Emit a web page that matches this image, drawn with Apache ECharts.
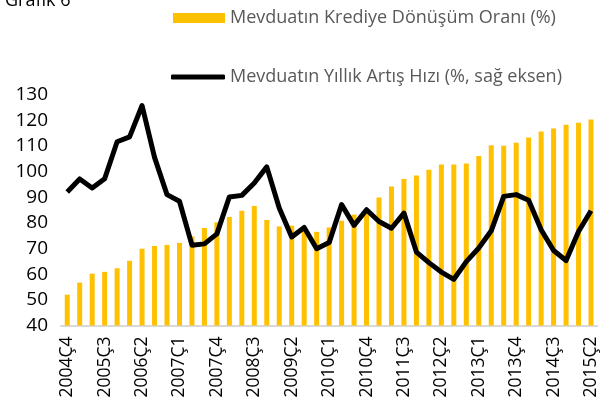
<!DOCTYPE html>
<html>
<head>
<meta charset="utf-8">
<script src="https://cdn.jsdelivr.net/npm/echarts@6/dist/echarts.min.js"></script>
<style>
html,body{margin:0;padding:0;background:#fff;}
#chart{width:600px;height:412px;}
</style>
</head>
<body>
<div id="chart"></div>
<script>
const categories = [
  "2004Ç4",
  "2005Ç1","2005Ç2","2005Ç3","2005Ç4",
  "2006Ç1","2006Ç2","2006Ç3","2006Ç4",
  "2007Ç1","2007Ç2","2007Ç3","2007Ç4",
  "2008Ç1","2008Ç2","2008Ç3","2008Ç4",
  "2009Ç1","2009Ç2","2009Ç3","2009Ç4",
  "2010Ç1","2010Ç2","2010Ç3","2010Ç4",
  "2011Ç1","2011Ç2","2011Ç3","2011Ç4",
  "2012Ç1","2012Ç2","2012Ç3","2012Ç4",
  "2013Ç1","2013Ç2","2013Ç3","2013Ç4",
  "2014Ç1","2014Ç2","2014Ç3","2014Ç4",
  "2015Ç1","2015Ç2"
];
const loanToDeposit = [
  52.0, 56.7, 60.2, 60.9, 62.3, 65.2, 69.9, 71.0, 71.4, 72.2,
  74.7, 78.0, 80.2, 82.3, 84.7, 86.6, 81.1, 78.6, 78.9, 77.0,
  76.5, 78.2, 80.8, 83.2, 83.8, 89.9, 94.2, 97.1, 98.4, 100.7,
  102.7, 102.7, 103.1, 106.0, 110.2, 110.0, 111.2, 113.2, 115.6, 116.8,
  118.2, 119.0, 120.3
];
const depositGrowth = [
  92.0, 97.1, 93.6, 97.2, 111.6, 113.5, 125.7, 105.5, 91.0, 88.4,
  71.3, 71.8, 75.7, 90.1, 90.7, 95.5, 101.8, 85.8, 74.5, 78.2,
  69.9, 72.3, 87.1, 79.0, 85.1, 80.5, 77.9, 83.8, 68.6, 64.5,
  60.8, 58.0, 64.9, 70.2, 76.9, 90.3, 91.0, 88.8, 77.3, 69.2,
  65.3, 76.6, 84.7
];
const leftTicks = { min: 40, max: 130, interval: 10 };
const seriesNames = ["Mevduatın Krediye Dönüşüm Oranı (%)", "Mevduatın Yıllık Artış Hızı (%, sağ eksen)"];

const FONT = "Open Sans";
const chart = echarts.init(document.getElementById('chart'), null, {renderer: 'canvas'});
chart.setOption({
  animation: false,
  backgroundColor: '#ffffff',
  title: {
    text: 'Grafik 6', left: 0, top: -13,
    textStyle: {fontFamily: FONT, fontSize: 18, fontWeight: 'normal', color: '#000'}
  },
  legend: [
    {
      left: 168, top: 4, orient: 'vertical',
      itemWidth: 52, itemHeight: 10,
      data: [{name: seriesNames[0], icon: 'rect'}],
      textStyle: {fontFamily: FONT, fontSize: 18, color: '#595959'}
    },
    {
      left: 166, top: 63, orient: 'vertical',
      itemWidth: 54, itemHeight: 5,
      data: [{name: seriesNames[1], icon: 'roundRect', itemStyle: {color: '#000'}}],
      textStyle: {fontFamily: FONT, fontSize: 18, color: '#595959'}
    }
  ],
  grid: {left: 61, right: 1.5, top: 94.5, bottom: 86.5, containLabel: false},
  xAxis: {
    type: 'category',
    data: categories,
    boundaryGap: true,
    axisLine: {show: true, lineStyle: {color: '#d9d9d9', width: 2}},
    axisTick: {show: false},
    axisLabel: {
      interval: 2, rotate: 90, margin: 11,
      fontFamily: FONT, fontSize: 17.5, color: '#000'
    }
  },
  yAxis: [
    {
      type: 'value', min: leftTicks.min, max: leftTicks.max, interval: leftTicks.interval,
      axisLine: {show: false}, axisTick: {show: false}, splitLine: {show: false},
      axisLabel: {fontFamily: FONT, fontSize: 19, color: '#000', margin: 13}
    },
    {
      type: 'value', min: leftTicks.min, max: leftTicks.max, interval: leftTicks.interval,
      show: false, splitLine: {show: false}
    }
  ],
  series: [
    {
      name: seriesNames[0], type: 'bar', yAxisIndex: 0,
      data: loanToDeposit, barWidth: 5,
      itemStyle: {color: '#FFC000'}
    },
    {
      name: seriesNames[1], type: 'line', yAxisIndex: 1,
      data: depositGrowth, showSymbol: false, symbol: 'none',
      lineStyle: {color: '#000', width: 5, join: 'round'},
      itemStyle: {color: '#000'}
    }
  ]
});
</script>
</body>
</html>
